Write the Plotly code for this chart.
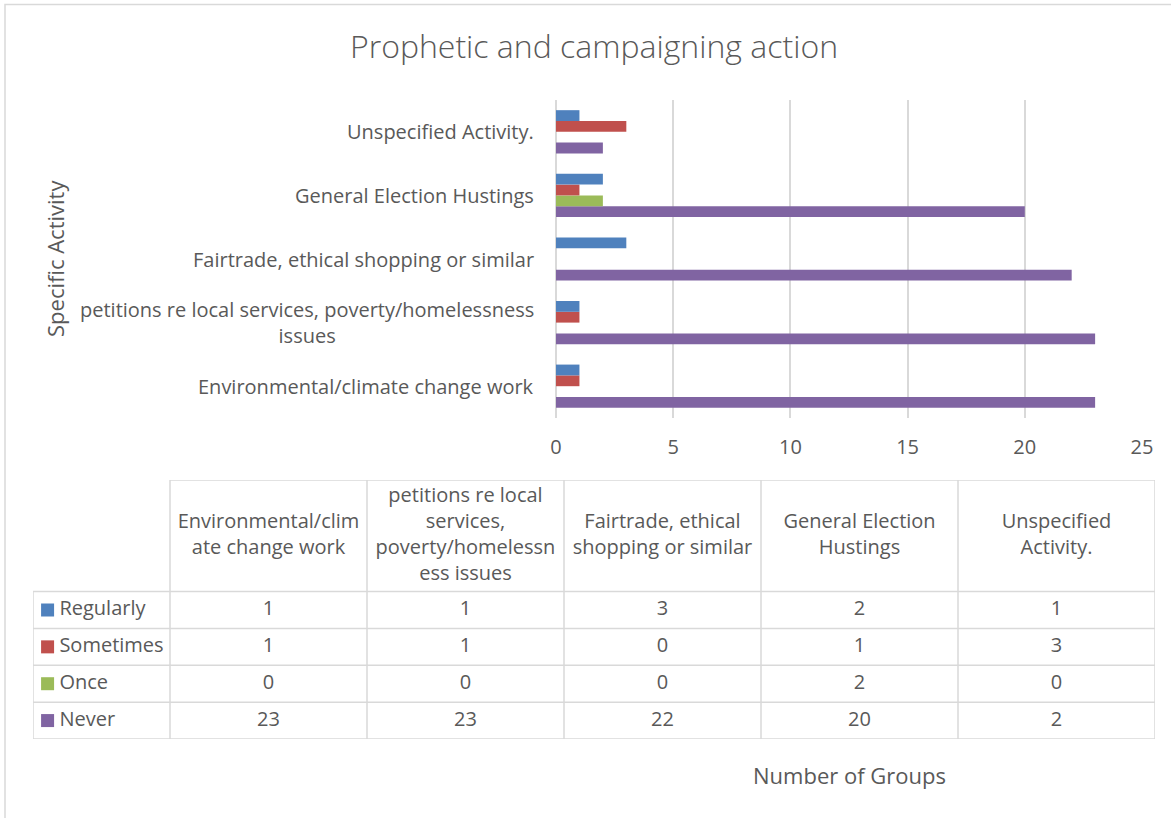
import plotly.graph_objects as go

# categories bottom-to-top on the chart (= table column order)
categories = [
    "Environmental/climate change work",
    "petitions re local services, poverty/homelessness issues",
    "Fairtrade, ethical shopping or similar",
    "General Election Hustings",
    "Unspecified Activity.",
]
# how the labels wrap on the axis and in the table header
axis_labels = [
    "Environmental/climate change work",
    "petitions re local services, poverty/homelessness<br>issues",
    "Fairtrade, ethical shopping or similar",
    "General Election Hustings",
    "Unspecified Activity.",
]
header_lines = [
    ["Environmental/clim", "ate change work"],
    ["petitions re local", "services,", "poverty/homelessn", "ess issues"],
    ["Fairtrade, ethical", "shopping or similar"],
    ["General Election", "Hustings"],
    ["Unspecified", "Activity."],
]

series_names = ["Regularly", "Sometimes", "Once", "Never"]
regularly = [1, 1, 3, 2, 1]
sometimes = [1, 1, 0, 1, 3]
once = [0, 0, 0, 2, 0]
never = [23, 23, 22, 20, 2]
series_values = [regularly, sometimes, once, never]
series_colors = ["#4F81BD", "#C0504D", "#9BBB59", "#8064A2"]

x_ticks = [0, 5, 10, 15, 20, 25]

TEXT = "#595959"
GRID = "#D9D9D9"
FONT = "Open Sans"
W, H = 1171, 818


def px_x(p):
    return p / W


def px_y(p):
    return 1 - p / H


fig = go.Figure()

# plotly stacks horizontal groups bottom-up, so add Never first
for name, vals, color in reversed(list(zip(series_names, series_values, series_colors))):
    fig.add_trace(
        go.Bar(
            x=vals,
            y=categories,
            orientation="h",
            name=name,
            marker=dict(color=color, line=dict(width=0)),
            showlegend=False,
            xaxis="x",
            yaxis="y",
        )
    )

# ---- data table drawn on its own hidden axes (x2 / y2) ----
# x2: one unit per category column, key column is narrower
key_w = 137 / 197
n_rows = len(series_names)
head_h = 112 / 37  # header height in row units
col_x = [i + 0.5 for i in range(len(categories))]
row_y = [n_rows - r - 0.5 for r in range(n_rows)]
head_y = n_rows + head_h / 2
top_y = n_rows + head_h

for x, lines in zip(col_x, header_lines):
    fig.add_trace(
        go.Scatter(
            x=[x], y=[head_y], mode="text", text=["<br>".join(lines)],
            textposition="middle center",
            textfont=dict(family=FONT, size=20, color=TEXT),
            xaxis="x2", yaxis="y2", showlegend=False, hoverinfo="skip",
        )
    )

for ci, x in enumerate(col_x):
    fig.add_trace(
        go.Scatter(
            x=[x] * n_rows, y=row_y, mode="text",
            text=[str(vals[ci]) for vals in series_values],
            textposition="middle center",
            textfont=dict(family=FONT, size=20, color=TEXT),
            xaxis="x2", yaxis="y2", showlegend=False, hoverinfo="skip",
        )
    )

# legend keys in first column
key_x = -key_w + 0.074
fig.add_trace(
    go.Scatter(
        x=[key_x] * n_rows, y=row_y, mode="markers",
        marker=dict(symbol="square", size=13, color=series_colors, line=dict(width=0)),
        xaxis="x2", yaxis="y2", showlegend=False, hoverinfo="skip",
    )
)
fig.add_trace(
    go.Scatter(
        x=[key_x + 0.06] * n_rows, y=row_y, mode="text",
        text=series_names, textposition="middle right",
        textfont=dict(family=FONT, size=20, color=TEXT),
        xaxis="x2", yaxis="y2", showlegend=False, hoverinfo="skip",
    )
)

shapes = []
line_style = dict(color=GRID, width=1.5)
for yv in range(n_rows + 1):
    shapes.append(dict(type="line", xref="x2", yref="y2", x0=-key_w, x1=len(categories),
                       y0=yv, y1=yv, line=line_style))
shapes.append(dict(type="line", xref="x2", yref="y2", x0=0, x1=len(categories),
                   y0=top_y, y1=top_y, line=line_style))
shapes.append(dict(type="line", xref="x2", yref="y2", x0=-key_w, x1=-key_w,
                   y0=0, y1=n_rows, line=line_style))
for xv in range(len(categories) + 1):
    shapes.append(dict(type="line", xref="x2", yref="y2", x0=xv, x1=xv,
                       y0=0, y1=top_y, line=line_style))

# chart area border (right and bottom edges fall outside the view)
shapes.append(
    dict(
        type="rect", xref="paper", yref="paper",
        x0=px_x(5), x1=1.01, y0=-0.05, y1=px_y(4.5),
        line=dict(color=GRID, width=1.5), fillcolor="rgba(0,0,0,0)",
        layer="below",
    )
)

annotations = []
for cat, lab in zip(categories, axis_labels):
    annotations.append(
        dict(
            x=px_x(536), xref="paper", xanchor="right",
            y=cat, yref="y", yanchor="middle",
            text=lab, showarrow=False, align="center",
            font=dict(family=FONT, size=20, color=TEXT),
        )
    )
annotations.append(
    dict(
        x=px_x(55), xref="paper", xanchor="center",
        y=px_y(259), yref="paper", yanchor="middle",
        text="Specific Activity", textangle=-90, showarrow=False,
        font=dict(family=FONT, size=22, color=TEXT),
    )
)
annotations.append(
    dict(
        x=px_x(849), xref="paper", xanchor="center",
        y=px_y(775), yref="paper", yanchor="middle",
        text="Number of Groups", showarrow=False,
        font=dict(family=FONT, size=22, color=TEXT),
    )
)

hidden = dict(visible=False, showgrid=False, zeroline=False, fixedrange=True)

fig.update_layout(
    width=W,
    height=H,
    margin=dict(l=0, r=0, t=0, b=0, pad=0, autoexpand=False),
    paper_bgcolor="white",
    plot_bgcolor="white",
    barmode="group",
    bargap=0.32,
    bargroupgap=0,
    title=dict(
        text="Prophetic and campaigning action",
        x=px_x(594), xanchor="center",
        y=px_y(47), yanchor="middle",
        font=dict(family=FONT, size=32, color=TEXT, weight=300),
    ),
    xaxis=dict(
        domain=[px_x(556), px_x(1142)],
        range=[0, 25],
        tickvals=x_ticks,
        showgrid=True,
        gridcolor=GRID,
        gridwidth=1.5,
        zeroline=True,
        zerolinecolor=GRID,
        zerolinewidth=1.5,
        showline=False,
        ticks="",
        ticklabelstandoff=15,
        automargin=False,
        tickfont=dict(family=FONT, size=20, color=TEXT),
    ),
    yaxis=dict(
        domain=[px_y(418), px_y(100)],
        categoryorder="array",
        categoryarray=categories,
        showticklabels=False,
        showgrid=False,
        zeroline=False,
        showline=False,
        ticks="",
        automargin=False,
    ),
    xaxis2=dict(domain=[px_x(33), px_x(1155)], range=[-key_w, len(categories)],
                anchor="y2", automargin=False, **hidden),
    yaxis2=dict(domain=[px_y(739), px_y(480)], range=[0, top_y],
                anchor="x2", automargin=False, **hidden),
    annotations=annotations,
    shapes=shapes,
)

fig.write_html(
    "out.html",
    config=dict(displayModeBar=False),
    post_script="document.body.style.margin='0';document.body.style.overflow='hidden';",
)
